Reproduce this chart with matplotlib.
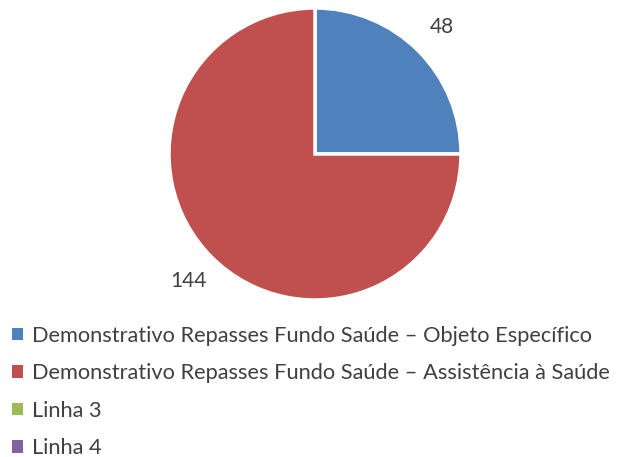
import numpy as np
import matplotlib
matplotlib.use('Agg')
import matplotlib.pyplot as plt
from matplotlib.patches import Patch

plt.rcParams['font.family'] = ['Lato', 'DejaVu Sans']

# data
categories = [
    'Demonstrativo Repasses Fundo Saúde – Objeto Específico',
    'Demonstrativo Repasses Fundo Saúde – Assistência à Saúde',
    'Linha 3',
    'Linha 4',
]
values = [48, 144, 0, 0]
colors = ['#4F81BD', '#C0504D', '#9BBB59', '#8064A2']

W, H = 617, 457
fig = plt.figure(figsize=(W / 100, H / 100), dpi=100)

# pie centered at (315, 154) px, radius ~146 px
cx, cy, r = 315, 154, 146
ax = fig.add_axes([(cx - r) / W, (H - cy - r) / H, 2 * r / W, 2 * r / H])
wedges, _ = ax.pie(values[:2], colors=colors[:2], startangle=90, counterclock=False,
                   wedgeprops=dict(edgecolor='white', linewidth=2.5))
ax.set_xlim(-1, 1)
ax.set_ylim(-1, 1)
ax.set_aspect('equal')

for w, v in zip(wedges, values[:2]):
    mid = np.deg2rad((w.theta1 + w.theta2) / 2)
    d = 1.23
    ax.text(d * np.cos(mid), d * np.sin(mid), str(v), ha='center', va='center',
            fontsize=15, color='#404040', clip_on=False)

handles = [Patch(facecolor=c, edgecolor='none') for c in colors]
fig.legend(handles, categories, loc='upper left', bbox_to_anchor=(12 / W, (H - 326) / H),
           frameon=False, fontsize=15.7, labelcolor='#404040',
           handlelength=0.5, handleheight=0.5, handletextpad=0.4,
           labelspacing=0.8, borderaxespad=0, borderpad=0)

fig.savefig('out.png', dpi=100)
